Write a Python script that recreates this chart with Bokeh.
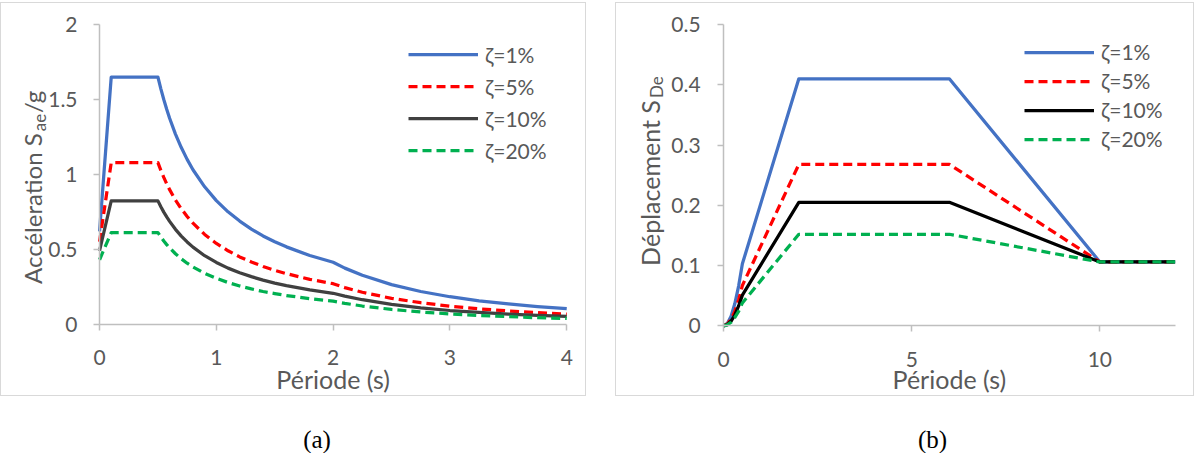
import math
from bokeh.plotting import figure
from bokeh.models import Range1d, FixedTicker, Label, Legend, LegendItem, Div, Spacer
from bokeh.layouts import row, column
from bokeh.embed import file_html
from bokeh.resources import INLINE

# ---------------- data : panel (a) pseudo-acceleration spectrum ----------------
period_a = [0, 0.1, 0.5, 0.525, 0.55, 0.575, 0.6, 0.65, 0.7, 0.75, 0.8, 0.9, 1.0, 1.1, 1.2,
            1.3, 1.4, 1.5, 1.6, 1.8, 2.0, 2.1, 2.25, 2.5, 2.75, 3.0, 3.25, 3.5, 3.75, 4.0]
acc_1 = [0.62, 1.65, 1.65, 1.571, 1.50, 1.435, 1.375, 1.269, 1.179, 1.10, 1.031, 0.917, 0.825,
         0.75, 0.688, 0.635, 0.589, 0.55, 0.516, 0.458, 0.413, 0.374, 0.326, 0.264, 0.218,
         0.183, 0.156, 0.135, 0.117, 0.103]
acc_5 = [0.55, 1.078, 1.078, 1.027, 0.98, 0.937, 0.898, 0.829, 0.77, 0.719, 0.674, 0.599, 0.539,
         0.49, 0.449, 0.415, 0.385, 0.359, 0.337, 0.299, 0.27, 0.244, 0.213, 0.172, 0.143,
         0.12, 0.102, 0.088, 0.077, 0.067]
acc_10 = [0.49, 0.823, 0.823, 0.784, 0.748, 0.716, 0.686, 0.633, 0.588, 0.549, 0.514, 0.457,
          0.412, 0.374, 0.343, 0.317, 0.294, 0.274, 0.257, 0.229, 0.206, 0.187, 0.163, 0.132,
          0.109, 0.091, 0.078, 0.067, 0.059, 0.051]
acc_20 = [0.43, 0.611, 0.611, 0.582, 0.555, 0.531, 0.509, 0.47, 0.436, 0.407, 0.382, 0.339,
          0.306, 0.278, 0.255, 0.235, 0.218, 0.204, 0.191, 0.17, 0.153, 0.139, 0.121, 0.098,
          0.081, 0.068, 0.058, 0.05, 0.043, 0.038]
xticks_a = [0, 1, 2, 3, 4]
xtick_labels_a = ["0", "1", "2", "3", "4"]
yticks_a = [0, 0.5, 1, 1.5, 2]
ytick_labels_a = ["0", "0.5", "1", "1.5", "2"]

# ---------------- data : panel (b) displacement spectrum ----------------
period_b = [0, 0.1, 0.2, 0.3, 0.4, 0.5, 2.0, 6.0, 10.0, 12.0]
disp_1 = [0, 0.004, 0.016, 0.037, 0.066, 0.103, 0.41, 0.41, 0.106, 0.106]
disp_5 = [0, 0.003, 0.011, 0.024, 0.043, 0.067, 0.268, 0.268, 0.106, 0.106]
disp_10 = [0, 0.002, 0.008, 0.018, 0.033, 0.051, 0.205, 0.205, 0.106, 0.106]
disp_20 = [0, 0.0015, 0.006, 0.014, 0.024, 0.038, 0.152, 0.152, 0.106, 0.106]
xticks_b = [0, 5, 10]
xtick_labels_b = ["0", "5", "10"]
yticks_b = [0, 0.1, 0.2, 0.3, 0.4, 0.5]
ytick_labels_b = ["0", "0.1", "0.2", "0.3", "0.4", "0.5"]

series_labels = ["ζ=1%", "ζ=5%", "ζ=10%", "ζ=20%"]
colors_a = ["#4472C4", "#FF0000", "#404040", "#00B050"]
colors_b = ["#4472C4", "#FF0000", "#000000", "#00B050"]
dashes = ["solid", "9 5", "solid", "9 5"]

FONT = "Lato"
TXT = "#595959"
AX = "#bfbfbf"
V = math.pi / 2


def make_panel(width, height, view_x, view_y, xb, yb, xt, xtl, yt, ytl, ystand):
    # the frame fills the whole canvas; axes sit at data 0 (fixed_location)
    p = figure(width=width, height=height, x_range=Range1d(*view_x), y_range=Range1d(*view_y),
               output_backend="svg", toolbar_location=None,
               min_border_left=0, min_border_right=0, min_border_top=0, min_border_bottom=0,
               background_fill_color="white", border_fill_color="white",
               outline_line_color=None,
               styles={"border": "1px solid #d9d9d9", "box-sizing": "border-box"})
    p.xgrid.visible = False
    p.ygrid.visible = False
    p.xaxis.fixed_location = 0
    p.yaxis.fixed_location = 0
    p.xaxis.bounds = xb
    p.yaxis.bounds = yb
    for ax in (p.xaxis[0], p.yaxis[0]):
        ax.axis_line_color = AX
        ax.axis_line_width = 1.5
        ax.major_tick_line_color = AX
        ax.major_tick_line_width = 1.5
        ax.major_tick_out = 6
        ax.major_tick_in = 0
        ax.minor_tick_line_color = None
        ax.major_label_text_font = FONT
        ax.major_label_text_font_size = "21px"
        ax.major_label_text_color = TXT
    p.xaxis.ticker = FixedTicker(ticks=xt)
    p.xaxis.major_label_overrides = dict(zip(xt, xtl))
    p.xaxis.major_label_standoff = 20
    p.yaxis.ticker = FixedTicker(ticks=yt)
    p.yaxis.major_label_overrides = dict(zip(yt, ytl))
    p.yaxis.major_label_standoff = ystand
    return p


def add_lines(p, xs, ys_list, colors, legend_loc, row_h):
    items = []
    for ys, c, d, lab in zip(ys_list, colors, dashes, series_labels):
        r = p.line(xs, ys, line_color=c, line_width=3.25, line_dash=d, line_join="round")
        items.append(LegendItem(label=lab, renderers=[r]))
    leg = Legend(items=items, location=legend_loc, orientation="vertical",
                 glyph_width=70, glyph_height=20, label_height=row_h, spacing=0,
                 padding=0, margin=0, label_standoff=7,
                 label_text_font=FONT, label_text_font_size="21px", label_text_color=TXT,
                 border_line_color=None, background_fill_alpha=0)
    p.add_layout(leg)


def text_label(p, x, y, text, size, angle=0.0, align="left", dx=0):
    p.add_layout(Label(x=x, y=y, text=text, angle=angle, x_offset=dx,
                       text_align=align, text_baseline="middle",
                       text_font=FONT, text_font_size=size, text_color=TXT))


# ---------------- panel (a) ----------------
# canvas 584x392 ; 116.4 px per second, 149 px per unit of Sae/g
pa = make_panel(586, 394, (-0.8394, 4.1778), (-0.4899, 2.1410), (0, 4), (0, 2),
                xticks_a, xtick_labels_a, yticks_a, ytick_labels_a, 16)
add_lines(pa, period_a, [acc_1, acc_5, acc_10, acc_20], colors_a, (407, 231), 32)
text_label(pa, -0.573, 0.268, "Accéleration S", "24px", angle=V)
text_label(pa, -0.573, 1.2886, "ae", "17px", angle=V, dx=7)
text_label(pa, -0.573, 1.409, "/g", "24px", angle=V)
text_label(pa, 2.0, -0.3657, "Période (s)", "25px", align="center")

# ---------------- panel (b) ----------------
# canvas 577x392 ; 37.5 px per second, 599.4 px per metre
pb = make_panel(579, 394, (-2.8453, 12.5413), (-0.11895, 0.53503), (0, 12), (0, 0.5),
                xticks_b, xtick_labels_b, yticks_b, ytick_labels_b, 17)
add_lines(pb, period_b, [disp_1, disp_5, disp_10, disp_20], colors_b, (408, 244), 29)
text_label(pb, -1.965, 0.0995, "Déplacement S", "25px", angle=V)
text_label(pb, -1.965, 0.378, "De", "17px", angle=V, dx=7)
text_label(pb, 6.0, -0.08809, "Période (s)", "25px", align="center")


def caption(txt, w, shift):
    return Div(text=(f'<div style="width:{w}px;box-sizing:border-box;padding-top:31px;'
                     f'line-height:16px;font-family:\'Liberation Serif\';font-size:25px;'
                     f'color:#000;text-align:center;padding-left:{shift}px">{txt}</div>'),
               width=w, height=41)


layout = row(column(Spacer(height=2), pa, caption("(a)", 586, 38)),
             column(Spacer(height=2), pb, caption("(b)", 579, 46)),
             spacing=19)

open("out.html", "w").write(file_html(layout, INLINE))
